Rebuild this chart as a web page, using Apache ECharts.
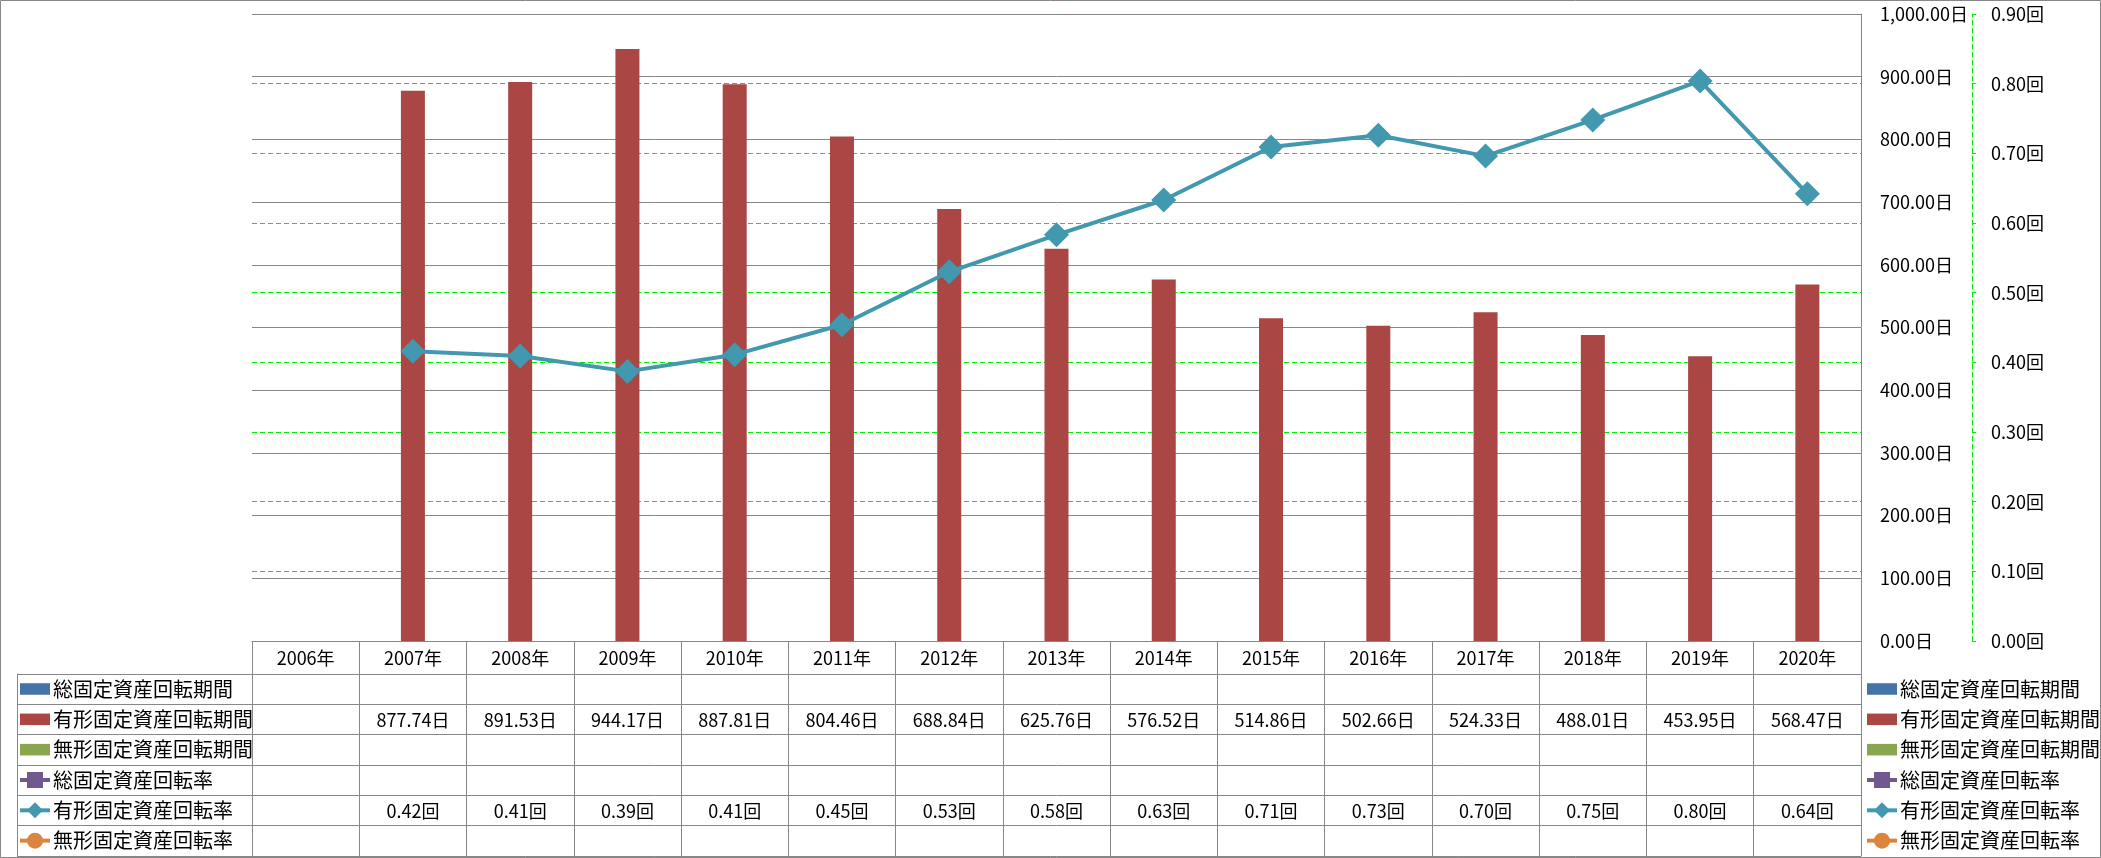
<!DOCTYPE html>
<html>
<head>
<meta charset="utf-8">
<script src="https://cdn.jsdelivr.net/npm/echarts@6/dist/echarts.min.js"></script>
<style>
html,body{margin:0;padding:0;background:#fff;}
#chart{width:2101px;height:858px;}
</style>
</head>
<body>
<div id="chart"></div>
<script>
const years = ['2006年','2007年','2008年','2009年','2010年','2011年','2012年','2013年','2014年','2015年','2016年','2017年','2018年','2019年','2020年'];
const seriesNames = ['総固定資産回転期間','有形固定資産回転期間','無形固定資産回転期間','総固定資産回転率','有形固定資産回転率','無形固定資産回転率'];
const totalDays = [];
const tangibleDays = [null, 877.74, 891.53, 944.17, 887.81, 804.46, 688.84, 625.76, 576.52, 514.86, 502.66, 524.33, 488.01, 453.95, 568.47];
const intangibleDays = [];
const totalRate = [];
const tangibleRate = [null, 0.416, 0.409, 0.387, 0.411, 0.454, 0.530, 0.583, 0.633, 0.709, 0.726, 0.696, 0.748, 0.804, 0.642];
const intangibleRate = [];
const colors = ['#4572A7','#AA4643','#89A54E','#71588F','#4198AF','#DB843D'];

const FONT = '"Noto Sans CJK JP", "Noto Sans", sans-serif';
const GRAY = '#878787';
const GREEN = '#00ee00';

function fmtDays(v){ return v.toLocaleString('en-US',{minimumFractionDigits:2,maximumFractionDigits:2}) + '日'; }
function fmtRate(v){ return v.toFixed(2) + '回'; }

// table cells built from the data arrays
const cellData = [], cellText = [];
tangibleDays.forEach((v,i)=>{ if(v!=null){ cellData.push([i,1]); cellText.push(fmtDays(v)); }});
tangibleRate.forEach((v,i)=>{ if(v!=null){ cellData.push([i,4]); cellText.push(fmtRate(v)); }});

const barIcon = 'path://M0,0h26v10h-26z';
const legendData = seriesNames.map((n,i)=> i<3 ? {name:n, icon:barIcon} : {name:n});
const legendCommon = {
  orient:'vertical', top:679, height:220, itemWidth:30, itemHeight:20, itemGap:10.33,
  padding:0,
  data: legendData, selectedMode:false,
  lineStyle:{width:4},
  textStyle:{fontSize:20, lineHeight:20, fontFamily:FONT, color:'#000', padding:[0,0,0,-2]}
};

const chart = echarts.init(document.getElementById('chart'));
chart.setOption({
  animation:false,
  color: colors,
  textStyle:{fontFamily:FONT},
  graphic:[{type:'rect', shape:{x:0.5,y:0.5,width:2100,height:857}, style:{fill:'none', stroke:GRAY, lineWidth:1}, silent:true}],
  legend:[
    Object.assign({left:18}, legendCommon),
    Object.assign({left:1865}, legendCommon)
  ],
  grid:[
    {left:252, top:14, width:1609, height:627, containLabel:false},
    {left:252, top:674, width:1609, height:182, containLabel:false}
  ],
  xAxis:[
    {gridIndex:0, type:'category', data:years, boundaryGap:true,
     axisLine:{show:true, lineStyle:{color:GRAY, width:1}},
     axisTick:{show:true, interval:0, length:33, lineStyle:{color:GRAY}},
     axisLabel:{show:true, interval:0, margin:8, fontSize:18, color:'#000', fontFamily:FONT},
     splitLine:{show:false}},
    {gridIndex:1, type:'category', data:years, position:'top', boundaryGap:true,
     axisLine:{show:true, lineStyle:{color:GRAY}},
     axisTick:{show:false}, axisLabel:{show:false},
     splitLine:{show:true, interval:0, lineStyle:{color:GRAY}}}
  ],
  yAxis:[
    {gridIndex:0, type:'value', position:'right', min:0, max:1000, interval:100, z:1,
     axisLine:{show:true, lineStyle:{color:GRAY}}, axisTick:{show:false},
     axisLabel:{margin:19, fontSize:18, color:'#000', fontFamily:FONT, formatter:fmtDays},
     splitLine:{show:true, lineStyle:{color:GRAY, width:1}}},
    {gridIndex:0, type:'value', position:'right', offset:111, min:0, max:0.9, interval:0.1, z:0,
     axisLine:{show:true, lineStyle:{color:GREEN, type:[5,3]}},
     axisTick:{show:true, inside:false, length:4, lineStyle:{color:GREEN}},
     axisLabel:{margin:19, fontSize:18, color:'#000', fontFamily:FONT, formatter:fmtRate},
     splitLine:{show:true, lineStyle:{color:GREEN, type:[5,3], width:1}}},
    {gridIndex:1, type:'category', data:seriesNames, inverse:true, position:'left',
     axisLine:{show:true, lineStyle:{color:GRAY}},
     axisTick:{show:true, interval:0, length:235, lineStyle:{color:GRAY}},
     axisLabel:{show:false},
     splitLine:{show:true, interval:0, lineStyle:{color:GRAY}}},
    {gridIndex:1, type:'category', data:seriesNames, inverse:true, position:'left', offset:235,
     axisLine:{show:true, lineStyle:{color:GRAY}}, axisTick:{show:false}, axisLabel:{show:false}, splitLine:{show:false}},
    {gridIndex:1, type:'category', data:seriesNames, inverse:true, position:'right',
     axisLine:{show:true, lineStyle:{color:GRAY}}, axisTick:{show:false}, axisLabel:{show:false}, splitLine:{show:false}}
  ],
  series:[
    {name:seriesNames[0], type:'bar', xAxisIndex:0, yAxisIndex:0, data:totalDays, barWidth:24, barGap:'-100%', itemStyle:{color:colors[0]}},
    {name:seriesNames[1], type:'bar', xAxisIndex:0, yAxisIndex:0, data:tangibleDays, barWidth:24, barGap:'-100%', itemStyle:{color:colors[1]}},
    {name:seriesNames[2], type:'bar', xAxisIndex:0, yAxisIndex:0, data:intangibleDays, barWidth:24, barGap:'-100%', itemStyle:{color:colors[2]}},
    {name:seriesNames[3], type:'line', xAxisIndex:0, yAxisIndex:1, data:totalRate, symbol:'rect', symbolSize:14, lineStyle:{width:4, color:colors[3]}, itemStyle:{color:colors[3]}},
    {name:seriesNames[4], type:'line', xAxisIndex:0, yAxisIndex:1, data:tangibleRate, symbol:'diamond', symbolSize:25, z:5,
     lineStyle:{width:4, color:colors[4]}, itemStyle:{color:colors[4]}},
    {name:seriesNames[5], type:'line', xAxisIndex:0, yAxisIndex:1, data:intangibleRate, symbol:'circle', symbolSize:14, lineStyle:{width:4, color:colors[5]}, itemStyle:{color:colors[5]}},
    {name:'table', type:'custom', xAxisIndex:1, yAxisIndex:2, data:cellData, silent:true,
     renderItem:function(params, api){
       const p = api.coord([api.value(0), api.value(1)]);
       return {type:'text', x:p[0], y:p[1]+1, style:{text:cellText[params.dataIndex], fill:'#000', fontSize:18, fontFamily:FONT, align:'center', verticalAlign:'middle'}};
     }}
  ]
});
</script>
</body>
</html>
